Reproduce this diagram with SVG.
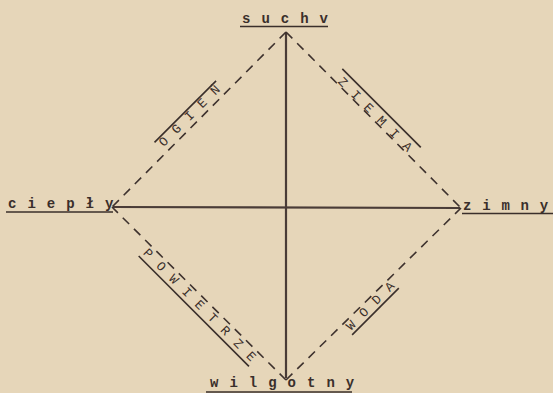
<svg xmlns="http://www.w3.org/2000/svg" width="553" height="393" viewBox="0 0 553 393">
<style>
.bg{fill:#e6d6b9}
.node{font-family:"Liberation Mono","DejaVu Sans Mono",monospace;font-size:14px;font-weight:bold;fill:#3a2f2b;letter-spacing:11px}
.node2{font-family:"Liberation Mono","DejaVu Sans Mono",monospace;font-size:14px;font-weight:bold;fill:#3a2f2b}
.elab{font-family:"Liberation Mono","DejaVu Sans Mono",monospace;font-size:13px;fill:#3a2f2b;letter-spacing:10.4px}
.ul{stroke:#3a2f2b;stroke-width:1.6;fill:none}
.axis{stroke:#4a3c37;stroke-width:2.2;fill:none}
.edge{stroke:#3e322e;stroke-width:1.6;fill:none;stroke-dasharray:9 6.8}
</style>
<rect class="bg" x="0" y="0" width="553" height="393"/>
<g id="connectors">
  <line class="axis" x1="286" y1="33" x2="286" y2="378"/>
  <line class="axis" x1="113" y1="207" x2="460" y2="208"/>
  <line class="edge" x1="286" y1="32" x2="112" y2="207"/>
  <line class="edge" x1="286" y1="32" x2="461" y2="208"/>
  <line class="edge" x1="286" y1="380" x2="461" y2="208"/>
  <line class="edge" x1="286" y1="380" x2="112" y2="207"/>
  <g id="label-ogien" transform="translate(192,119) rotate(-45)">
    <text class="elab" x="-40" y="0">OGIEŃ</text>
    <line class="ul" x1="-43" y1="-10" x2="44" y2="-10"/>
  </g>
  <g id="label-ziemia" transform="translate(372,117) rotate(45)">
    <text class="elab" x="-49" y="0">ZIEMIA</text>
    <line class="ul" x1="-55" y1="-13" x2="56" y2="-13"/>
  </g>
  <g id="label-powietrze" transform="translate(197,308) rotate(45)">
    <text class="elab" x="-77" y="0">POWIETRZE</text>
    <line class="ul" x1="-78" y1="4.5" x2="78" y2="4.5"/>
  </g>
  <g id="label-woda" transform="translate(373,309) rotate(-45)">
    <text class="elab" x="-31" y="0">WODA</text>
    <line class="ul" x1="-33" y1="3.5" x2="33" y2="3.5"/>
  </g>
</g>
<g id="node-suchy">
  <text class="node" x="242" y="23">suchv</text>
  <line class="ul" x1="240" y1="26.5" x2="328" y2="26.5"/>
</g>
<g id="node-cieply">
  <text class="node" x="8" y="208">ciepły</text>
  <line class="ul" x1="6" y1="212" x2="113" y2="212"/>
</g>
<g id="node-zimny">
  <text class="node2" x="463 482.2 501.4 520.6 539.8" y="210">zimny</text>
  <line class="ul" x1="462" y1="213.5" x2="553" y2="213.5"/>
</g>
<g id="node-wilgotny">
  <text class="node" x="210" y="387">wilgotny</text>
  <line class="ul" x1="206" y1="392" x2="352" y2="392"/>
</g>
</svg>
